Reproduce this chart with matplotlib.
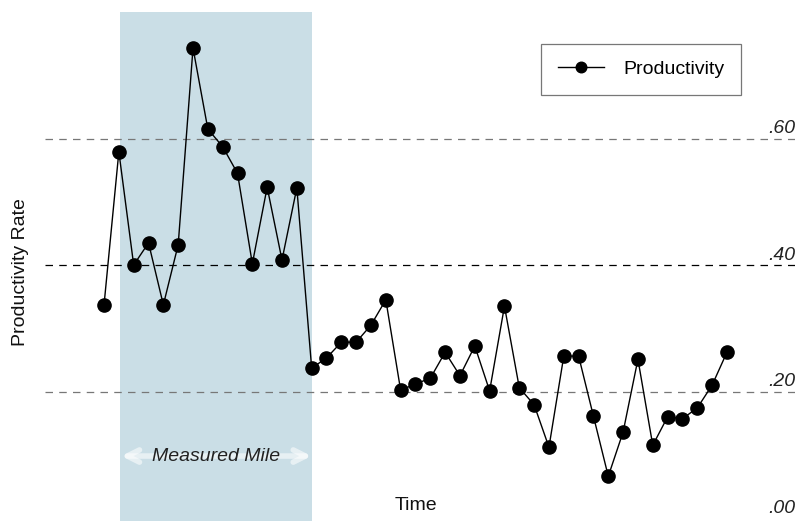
import matplotlib
matplotlib.use("Agg")
import matplotlib.pyplot as plt
import matplotlib.transforms as mtransforms

plt.rcParams['font.family'] = ['Liberation Sans', 'DejaVu Sans']

productivity = [0.337, 0.579, 0.400, 0.435, 0.337, 0.432, 0.743, 0.615, 0.587, 0.545,
                0.402, 0.523, 0.408, 0.522, 0.237, 0.253, 0.278, 0.278, 0.305, 0.345,
                0.202, 0.212, 0.221, 0.262, 0.225, 0.272, 0.201, 0.335, 0.206, 0.179,
                0.112, 0.256, 0.256, 0.161, 0.066, 0.136, 0.251, 0.115, 0.160, 0.157,
                0.174, 0.210, 0.262]
periods = list(range(len(productivity)))
ref_levels = [0.20, 0.40, 0.60]
ref_labels = ['.20', '.40', '.60']
zero_label = '.00'
measured_mile = (1.1, 14.05)

FS = 14

fig = plt.figure(figsize=(7.95, 5.21), dpi=100)
ax = fig.add_axes([45/795, 0, 1 - 45/795, 509/521])
ax.set_xlim(-3.98, 46.59)
ax.set_ylim(-0.0047, 0.80)
for s in ax.spines.values():
    s.set_visible(False)
ax.set_xticks([]); ax.set_yticks([])

ax.axvspan(measured_mile[0], measured_mile[1], color='#cadee6', zorder=0, lw=0)

for lev in ref_levels:
    col = '#000000' if abs(lev - 0.40) < 1e-9 else '#777777'
    ax.axhline(lev, color=col, ls=(0, (6, 5)), lw=0.9, zorder=1)

ax.plot(periods, productivity, color='black', lw=1.0, marker='o', ms=9.5,
        mfc='black', mec='black', zorder=3, label='Productivity')

trans = mtransforms.blended_transform_factory(ax.transAxes, ax.transData)
for lev, lab in zip([0.0] + ref_levels, [zero_label] + ref_labels):
    ax.annotate(lab, xy=(1.0, lev), xycoords=trans, xytext=(0, 1),
                textcoords='offset points', ha='right', va='bottom',
                fontsize=FS, style='italic', color='#222222', zorder=4)

# Measured mile arrow
ymid = 0.098
ax.annotate('', xy=(measured_mile[0] + 0.05, ymid), xytext=(measured_mile[1] - 0.05, ymid),
            arrowprops=dict(arrowstyle='<->', color='white', alpha=0.55, lw=4,
                            mutation_scale=22, shrinkA=0, shrinkB=0), zorder=2)
ax.text((measured_mile[0] + measured_mile[1]) / 2, ymid, 'Measured Mile',
        ha='center', va='center', fontsize=FS, style='italic', color='#222222', zorder=4)

fig.text(416/795, 1 - 505/521, 'Time', ha='center', va='center', fontsize=FS, color='#111111')
fig.text(21/795, 1 - 272/521, 'Productivity Rate', ha='center', va='center',
         rotation=90, fontsize=FS, color='#111111')

leg = ax.legend(loc='upper left', bbox_to_anchor=(541/795, 1 - 44/521),
                bbox_transform=fig.transFigure, fontsize=FS, frameon=True,
                fancybox=False, edgecolor='#555555', handlelength=2.4,
                borderpad=0.85, handletextpad=1.0, borderaxespad=0, markerscale=0.8)
leg.get_frame().set_linewidth(0.9)

fig.savefig('out.png', dpi=100)
